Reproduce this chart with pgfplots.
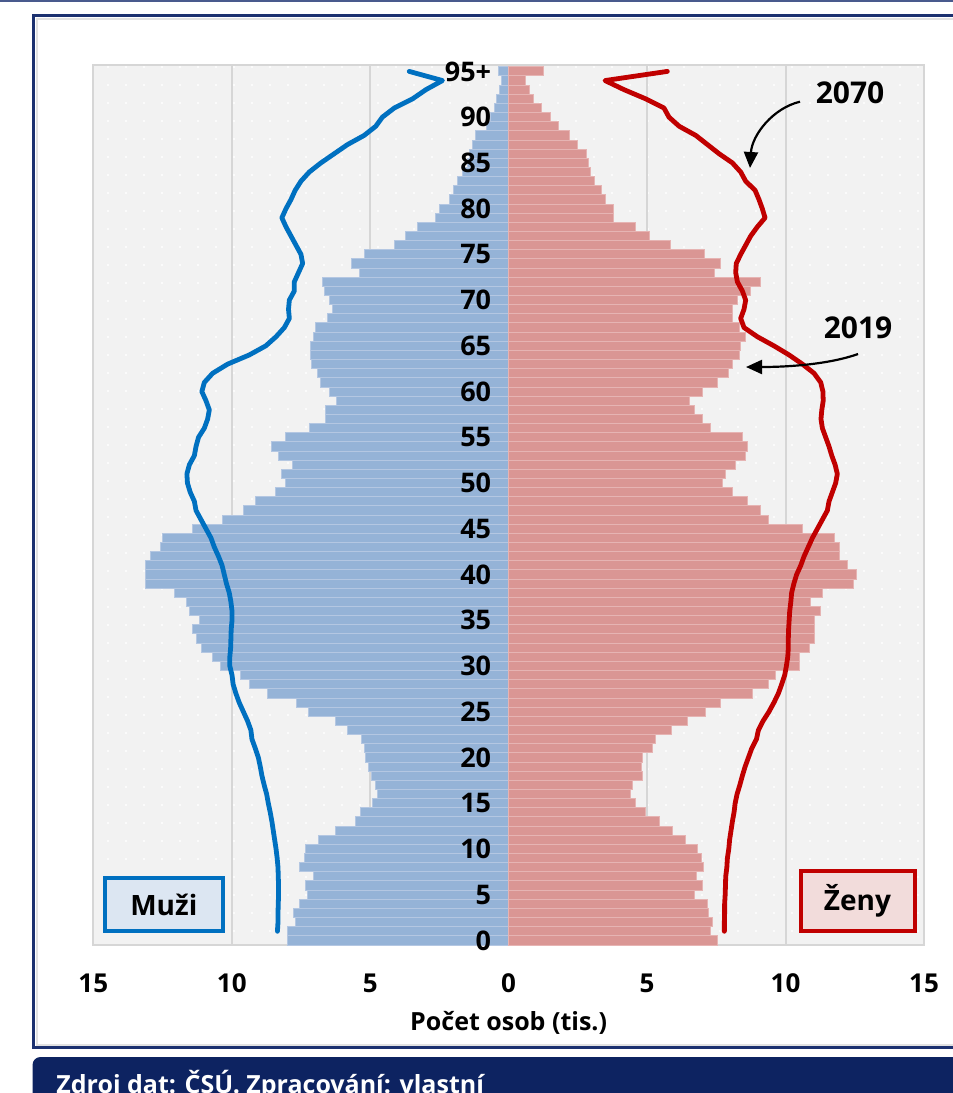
\documentclass[border=0pt]{standalone}
\usepackage{pgfplots}
\pgfplotsset{compat=1.18}
\usepackage{pgfplotstable}
\usepackage{fontspec}
\setmainfont{Open Sans}
\usetikzlibrary{arrows.meta,patterns.meta}

\definecolor{mbar}{HTML}{95B3D7}
\definecolor{mbaredge}{HTML}{B4C7E2}
\definecolor{fbar}{HTML}{DA9694}
\definecolor{fbaredge}{HTML}{E6B4B3}
\definecolor{mline}{HTML}{0070C0}
\definecolor{fline}{HTML}{C00000}
\definecolor{bggray}{HTML}{F2F2F2}
\definecolor{gridgray}{HTML}{D6D6D6}
\definecolor{navy}{HTML}{0D2361}
\definecolor{framenavy}{HTML}{1C3170}
\definecolor{muzifill}{HTML}{DCE6F2}
\definecolor{zenyfill}{HTML}{F2DCDB}

\pgfplotstableread{
age m f
0 7.99 7.54
1 7.99 7.30
2 7.68 7.36
3 7.77 7.21
4 7.56 7.18
5 7.26 6.70
6 7.32 7.00
7 7.05 6.78
8 7.56 7.02
9 7.38 6.97
10 7.32 6.82
11 6.87 6.37
12 6.26 5.91
13 5.54 5.43
14 5.34 4.95
15 4.92 4.57
16 4.74 4.41
17 4.82 4.49
18 4.97 4.83
19 5.06 4.80
20 5.16 4.83
21 5.22 5.19
22 5.30 5.31
23 5.82 5.89
24 6.24 6.46
25 7.23 7.12
26 7.66 7.66
27 8.71 8.80
28 9.37 9.40
29 9.67 9.62
30 10.39 10.52
31 10.69 10.49
32 11.11 10.87
33 11.29 11.06
34 11.41 11.03
35 11.17 11.03
36 11.53 11.27
37 11.63 10.91
38 12.08 11.33
39 13.10 12.47
40 13.13 12.56
41 13.10 12.23
42 12.94 11.96
43 12.56 11.96
44 12.50 11.75
45 11.42 10.60
46 10.34 9.38
47 9.59 9.10
48 9.13 8.62
49 8.43 8.08
50 8.07 7.72
51 8.19 7.84
52 7.80 8.18
53 8.30 8.54
54 8.58 8.62
55 8.07 8.44
56 7.20 7.30
57 6.60 7.00
58 6.62 6.70
59 6.21 6.52
60 6.48 7.00
61 6.81 7.54
62 6.90 7.94
63 7.12 8.08
64 7.17 8.32
65 7.15 8.38
66 7.05 8.56
67 6.96 8.32
68 6.54 8.08
69 6.36 8.08
70 6.48 8.26
71 6.66 8.74
72 6.74 9.10
73 5.40 7.42
74 5.66 7.66
75 5.22 7.06
76 4.13 5.84
77 3.71 5.07
78 3.29 4.57
79 2.65 3.80
80 2.51 3.79
81 2.15 3.50
82 2.00 3.35
83 1.85 3.10
84 1.67 2.95
85 1.49 2.90
86 1.40 2.80
87 1.31 2.50
88 1.21 2.20
89 0.80 1.80
90 0.64 1.50
91 0.52 1.20
92 0.44 0.90
93 0.32 0.75
94 0.25 0.60
95 0.38 1.27
}\pyr

\pgfplotstableread{
age m70 f70
1 8.35 7.79
2 8.33 7.79
3 8.33 7.80
4 8.32 7.80
5 8.31 7.82
6 8.31 7.83
7 8.32 7.84
8 8.33 7.88
9 8.36 7.90
10 8.40 7.95
11 8.45 7.98
12 8.50 8.03
13 8.55 8.08
14 8.61 8.14
15 8.68 8.18
16 8.74 8.25
17 8.83 8.35
18 8.91 8.44
19 8.97 8.54
20 9.04 8.66
21 9.15 8.78
22 9.27 8.95
23 9.31 9.02
24 9.43 9.19
25 9.58 9.40
26 9.73 9.58
27 9.85 9.74
28 9.95 9.86
29 9.99 9.97
30 10.07 10.03
31 10.07 10.08
32 10.04 10.10
33 10.03 10.10
34 10.02 10.11
35 9.99 10.13
36 9.99 10.15
37 10.03 10.19
38 10.09 10.22
39 10.19 10.30
40 10.27 10.40
41 10.35 10.55
42 10.48 10.67
43 10.63 10.82
44 10.75 10.97
45 10.93 11.15
46 11.11 11.33
47 11.29 11.51
48 11.35 11.57
49 11.50 11.69
50 11.60 11.81
51 11.62 11.87
52 11.53 11.79
53 11.35 11.67
54 11.29 11.57
55 11.20 11.45
56 10.99 11.33
57 10.87 11.28
58 10.81 11.31
59 10.93 11.36
60 11.08 11.35
61 10.99 11.27
62 10.69 11.03
63 10.15 10.61
64 9.37 10.13
65 8.77 9.58
66 8.40 8.98
67 8.10 8.50
68 7.92 8.38
69 7.95 8.50
70 7.92 8.56
71 7.74 8.44
72 7.74 8.26
73 7.59 8.20
74 7.44 8.22
75 7.50 8.38
76 7.68 8.56
77 7.86 8.74
78 8.04 8.98
79 8.19 9.26
80 8.04 9.16
81 7.86 9.04
82 7.71 8.90
83 7.50 8.56
84 7.20 8.38
85 6.78 8.08
86 6.30 7.60
87 5.82 7.18
88 5.22 6.76
89 4.80 6.16
90 4.56 5.79
91 4.13 5.61
92 3.47 4.95
93 2.99 4.17
94 2.39 3.48
95 3.59 5.73
}\proj

\newcommand\agefont{\fontsize{13.5}{15}\selectfont\bfseries}

\begin{document}
\begin{tikzpicture}[x=0.5pt,y=-0.5pt]
\path[use as bounding box] (0,0) rectangle (953,1093);
\clip (0,0) rectangle (953,1093);
\fill[white] (0,0) rectangle (953,1093);
\fill[framenavy!80] (0,0) rectangle (953,1.5);
% panel frame
\draw[gridgray!70, line width=1pt] (36.5,18.5) rectangle (990,1045);
\draw[framenavy, line width=1.2pt] (33.5,15.5) rectangle (995,1047.5);
% footer
\fill[navy, rounded corners=4pt] (32.5,1057) rectangle (1000,1130);
\node[white, anchor=base west, inner sep=0pt, font=\fontsize{12.5}{14}\selectfont\bfseries] at (56,1093) {Zdroj dat: ČSÚ. Zpracování: vlastní};

\begin{axis}[
  at={(46.65pt,-472.5pt)}, anchor=south west,
  scale only axis, width=415.35pt, height=440pt,
  xmin=-15, xmax=15, ymin=-0.5, ymax=95.7,
  axis background/.style={fill=bggray, postaction={pattern={Dots[distance=9pt, radius=0.55pt]}, pattern color=white}},
  axis line style={draw=gridgray, line width=1pt},
  xtick={-15,-10,-5,0,5,10,15},
  xticklabels={15,10,5,0,5,10,15},
  ytick=\empty,
  major tick length=0pt,
  xmajorgrids,
  grid style={draw=gridgray, line width=1pt},
  xticklabel style={font=\fontsize{13}{15}\selectfont\bfseries, anchor=center, yshift=-19pt},
  xlabel={Počet osob (tis.)},
  xlabel style={font=\fontsize{12.5}{14}\selectfont\bfseries, at={(axis description cs:0.5,0)}, anchor=center, yshift=-39pt},
  clip=false,
]
\addplot[xbar, bar shift=0pt, bar width=1, fill=mbar, draw=mbaredge, line width=0.5pt]
  table[x expr=-\thisrow{m}, y=age] {\pyr};
\addplot[xbar, bar shift=0pt, bar width=1, fill=fbar, draw=fbaredge, line width=0.5pt]
  table[x=f, y=age] {\pyr};
\addplot[mline, line width=2.4pt, line join=round, line cap=round, mark=none]
  table[x expr=-\thisrow{m70}, y=age] {\proj};
\addplot[fline, line width=2.4pt, line join=round, line cap=round, mark=none]
  table[x=f70, y=age] {\proj};

\node[anchor=east, font=\agefont, inner sep=0pt] at (axis cs:-0.62,0) {0};
\node[anchor=east, font=\agefont, inner sep=0pt] at (axis cs:-0.62,5) {5};
\node[anchor=east, font=\agefont, inner sep=0pt] at (axis cs:-0.62,10) {10};
\node[anchor=east, font=\agefont, inner sep=0pt] at (axis cs:-0.62,15) {15};
\node[anchor=east, font=\agefont, inner sep=0pt] at (axis cs:-0.62,20) {20};
\node[anchor=east, font=\agefont, inner sep=0pt] at (axis cs:-0.62,25) {25};
\node[anchor=east, font=\agefont, inner sep=0pt] at (axis cs:-0.62,30) {30};
\node[anchor=east, font=\agefont, inner sep=0pt] at (axis cs:-0.62,35) {35};
\node[anchor=east, font=\agefont, inner sep=0pt] at (axis cs:-0.62,40) {40};
\node[anchor=east, font=\agefont, inner sep=0pt] at (axis cs:-0.62,45) {45};
\node[anchor=east, font=\agefont, inner sep=0pt] at (axis cs:-0.62,50) {50};
\node[anchor=east, font=\agefont, inner sep=0pt] at (axis cs:-0.62,55) {55};
\node[anchor=east, font=\agefont, inner sep=0pt] at (axis cs:-0.62,60) {60};
\node[anchor=east, font=\agefont, inner sep=0pt] at (axis cs:-0.62,65) {65};
\node[anchor=east, font=\agefont, inner sep=0pt] at (axis cs:-0.62,70) {70};
\node[anchor=east, font=\agefont, inner sep=0pt] at (axis cs:-0.62,75) {75};
\node[anchor=east, font=\agefont, inner sep=0pt] at (axis cs:-0.62,80) {80};
\node[anchor=east, font=\agefont, inner sep=0pt] at (axis cs:-0.62,85) {85};
\node[anchor=east, font=\agefont, inner sep=0pt] at (axis cs:-0.62,90) {90};
\node[anchor=east, font=\agefont, inner sep=0pt] at (axis cs:-0.62,95) {95+};
\end{axis}

% legend boxes
\node[draw=mline, fill=muzifill, line width=2pt, minimum width=59pt, minimum height=26.8pt, inner sep=0pt,
      font=\fontsize{14}{16}\selectfont\bfseries] at (163.8,904.5) {Muži};
\node[draw=fline, fill=zenyfill, line width=2pt, minimum width=57pt, minimum height=29.6pt, inner sep=0pt,
      font=\fontsize{14}{16}\selectfont\bfseries] at (857.5,901) {Ženy};

% annotations
\node[font=\fontsize{15}{17}\selectfont\bfseries] at (850,92.5) {2070};
\draw[black, line width=1.1pt, -{Triangle[length=8pt,width=7pt]}]
  (800,101.7) .. controls (773,108) and (752,135) .. (750,168);
\node[font=\fontsize{15}{17}\selectfont\bfseries] at (858,328) {2019};
\draw[black, line width=1.1pt, -{Triangle[length=8pt,width=7pt]}]
  (858,354) .. controls (830,364) and (790,367) .. (746,367);
\end{tikzpicture}
\end{document}
